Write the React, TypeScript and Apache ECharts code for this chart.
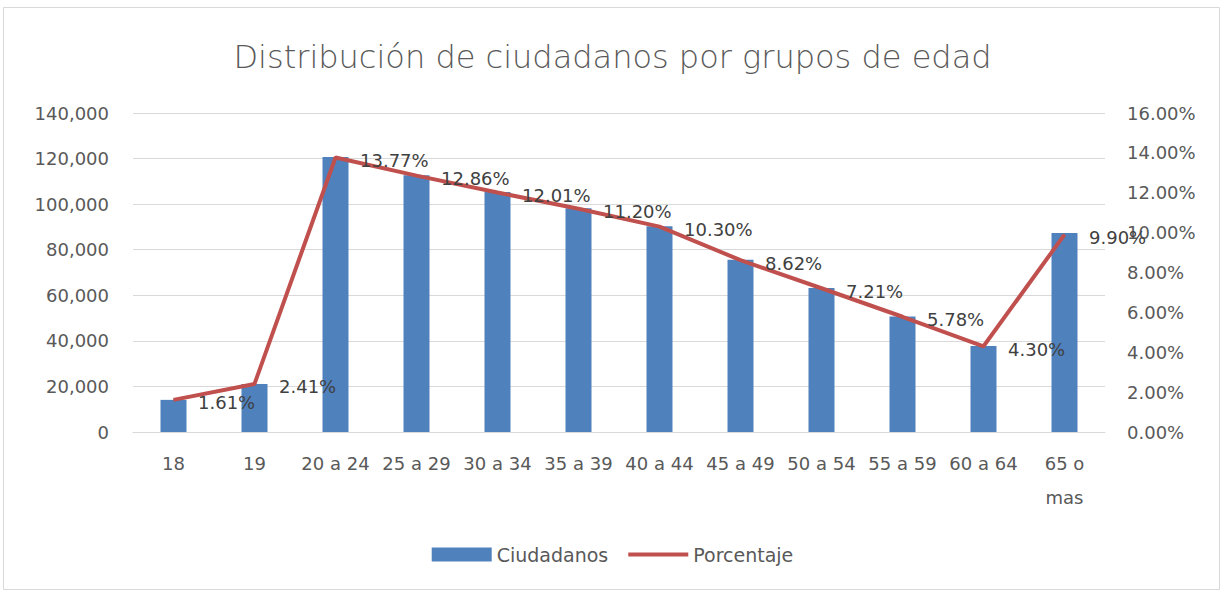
import React, { useEffect, useRef } from "react";
import * as echarts from "echarts";

const categories = ["18", "19", "20 a 24", "25 a 29", "30 a 34", "35 a 39", "40 a 44", "45 a 49", "50 a 54", "55 a 59", "60 a 64", "65 o\nmas"];
const ciudadanos = [14100, 21100, 120700, 112700, 105300, 98200, 90300, 75600, 63200, 50700, 37700, 87300];
const porcentaje = [1.61, 2.41, 13.77, 12.86, 12.01, 11.2, 10.3, 8.62, 7.21, 5.78, 4.3, 9.9];

const FONT = "'DejaVu Sans', sans-serif";

export default function App() {
  const ref = useRef<HTMLDivElement>(null);
  useEffect(() => {
    document.body.style.margin = "0";
    const chart = echarts.init(ref.current!, null, { renderer: "svg" });
    chart.setOption({
      animation: false,
      backgroundColor: "#ffffff",
      textStyle: { fontFamily: FONT },
      title: {
        text: "Distribución de ciudadanos por grupos de edad",
        left: "center",
        top: 36,
        textStyle: { fontFamily: FONT, fontSize: 32, fontWeight: 200, color: "#595959" },
      },
      graphic: [
        {
          type: "rect",
          shape: { x: 3.5, y: 7.5, width: 1216, height: 582 },
          style: { fill: "none", stroke: "#d9d9d9", lineWidth: 1 },
          silent: true,
        },
      ],
      legend: {
        bottom: 24,
        left: "center",
        itemGap: 20,
        itemWidth: 60,
        itemHeight: 14,
        textStyle: { fontFamily: FONT, fontSize: 19, color: "#595959" },
        data: [
          { name: "Ciudadanos", icon: "rect" },
          { name: "Porcentaje", icon: "path://M0,0 L60,0 L60,4 L0,4 Z" },
        ],
      },
      grid: { left: 133, right: 120, top: 113, bottom: 161 },
      xAxis: {
        type: "category",
        data: categories,
        axisLine: { show: true, lineStyle: { color: "#d9d9d9", width: 1 } },
        axisTick: { show: false },
        axisLabel: {
          interval: 0,
          margin: 14,
          fontFamily: FONT,
          fontSize: 18,
          color: "#595959",
          lineHeight: 34,
          verticalAlign: "top",
        },
      },
      yAxis: [
        {
          type: "value",
          min: 0,
          max: 140000,
          interval: 20000,
          axisLine: { show: false },
          axisTick: { show: false },
          splitLine: { lineStyle: { color: "#d9d9d9", width: 1 } },
          axisLabel: {
            margin: 24,
            fontFamily: FONT,
            fontSize: 18,
            color: "#595959",
            formatter: (v: number) => v.toLocaleString("en-US"),
          },
        },
        {
          type: "value",
          min: 0,
          max: 16,
          interval: 2,
          axisLine: { show: false },
          axisTick: { show: false },
          splitLine: { show: false },
          axisLabel: {
            margin: 22,
            fontFamily: FONT,
            fontSize: 18,
            color: "#595959",
            formatter: (v: number) => v.toFixed(2) + "%",
          },
        },
      ],
      series: [
        {
          name: "Ciudadanos",
          type: "bar",
          data: ciudadanos,
          barWidth: 26,
          itemStyle: { color: "#4F81BD" },
          yAxisIndex: 0,
        },
        {
          name: "Porcentaje",
          type: "line",
          data: porcentaje,
          yAxisIndex: 1,
          symbol: "circle",
          symbolSize: 1,
          showSymbol: true,
          lineStyle: { color: "#C0504D", width: 4 },
          itemStyle: { color: "#C0504D" },
          label: {
            show: true,
            position: "right",
            distance: 24,
            offset: [0, 3],
            fontFamily: FONT,
            fontSize: 18,
            color: "#404040",
            formatter: (p: any) => p.value.toFixed(2) + "%",
          },
          z: 3,
        },
      ],
    });
    return () => chart.dispose();
  }, []);
  return <div ref={ref} style={{ width: 1225, height: 593 }} />;
}
